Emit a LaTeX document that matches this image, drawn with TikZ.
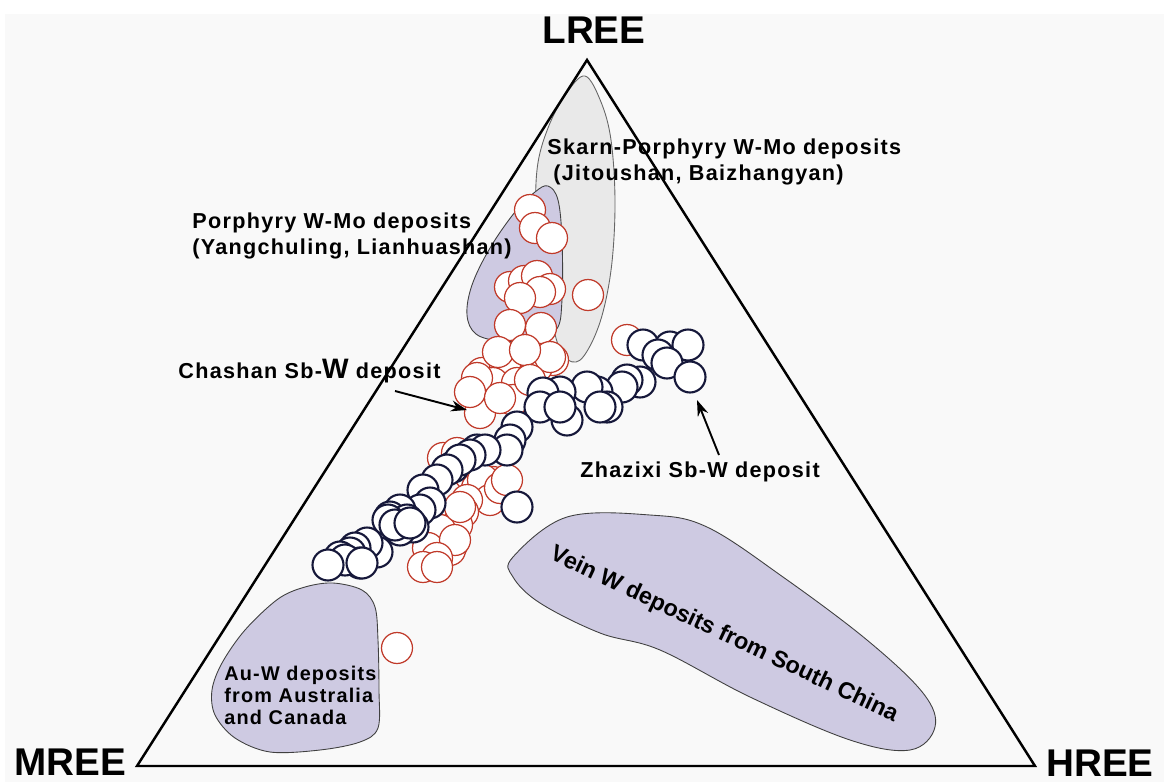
\documentclass[tikz,border=0pt]{standalone}
\usepackage{fontspec}
\setmainfont{Liberation Sans}
\newfontfamily\lblfont{Liberation Sans}[LetterSpace=6]
\usetikzlibrary{arrows.meta}
\definecolor{bggray}{RGB}{249,249,249}
\definecolor{skarngray}{RGB}{233,233,233}
\definecolor{fieldlilac}{RGB}{206,202,226}
\definecolor{ptred}{RGB}{192,58,42}
\definecolor{ptnavy}{RGB}{22,24,58}
\tikzset{
  field/.style ={draw=black!75, line width=0.5pt, fill=fieldlilac},
  skarn/.style ={draw=black!60, line width=0.5pt, fill=skarngray},
  redpt/.style ={draw=ptred, line width=0.7pt, fill=white},
  navypt/.style={draw=ptnavy, line width=1.2pt, fill=white},
  lbl/.style   ={font=\lblfont\bfseries\fontsize{12.3}{15.3}\selectfont, inner sep=0pt, align=left},
  smalllbl/.style={font=\lblfont\bfseries\fontsize{11.3}{12.5}\selectfont, inner sep=0pt, align=left},
  corner/.style={font=\bfseries\fontsize{22}{24}\selectfont, inner sep=0pt},
  ptr/.style   ={-{Stealth[length=3.2mm,width=2.2mm]}, line width=1.1pt},
}

\begin{document}
\begin{tikzpicture}[x=0.02cm, y=-0.02cm]
\useasboundingbox (0,0) rectangle (1164,782);
\fill[white] (0,0) rectangle (1164,782);
\fill[bggray] (5,14) rectangle (1164,782);

% fields
\draw[skarn] plot[smooth cycle, tension=0.6] coordinates {(585,76) (601,102) (611,140) (615,200) (612,262) (603,312) (590,346) (576,362) (560,350) (548,300) (537,230) (537,170) (548,128) (566,94)};
\draw[field] plot[smooth cycle, tension=0.6] coordinates {(548,186) (558,200) (562,240) (562,300) (556,330) (530,340) (500,341) (476,334) (467,315) (472,285) (490,248) (515,212) (535,192)};
\draw[field] plot[smooth cycle, tension=0.55] coordinates {(333,583) (362,590) (375,607) (378,640) (379,690) (378,728) (360,742) (320,750) (270,752) (235,738) (215,715) (212,690) (222,663) (245,630) (278,599) (305,587)};
\draw[field] plot[smooth cycle, tension=0.6] coordinates {(513,557) (567,517) (650,515) (707,527) (783,577) (867,640) (923,693) (935,727) (910,750) (850,740) (750,697) (660,650) (600,633) (540,603) (513,577)};

% triangle
\coordinate (L) at (587,60);
\coordinate (M) at (137,766);
\coordinate (H) at (1035,766);
\draw[line width=1.4pt, line join=miter] (L) -- (M) -- (H) -- cycle;

% Chashan samples
\foreach \x/\y in {530/210,535/228,552/238,510/287,524/281,537/276,550/289,540/292,520/298,588/295,
  510/325,541/328,553/360,627/340,482/373,505/365,537/367,493/383,517/383,477/378,480/413,513/400,
  550/357,498/352,525/350,470/392,500/398,530/380,
  443/458,457/453,470/460,470/475,477/488,493/482,483/480,490/500,467/500,463/512,457/525,452/545,
  450/550,440/530,428/548,455/540,437/558,423/567,437/567,500/488,507/480,460/507,397/648}
  \draw[redpt] (\x,\y) circle[radius=0.31cm];

% Zhazixi samples
\foreach \x/\y in {643/345,670/347,688/345,658/355,667/363,690/377,640/382,627/380,622/387,597/392,
  607/407,587/387,560/392,543/393,540/407,567/420,600/407,560/407,517/427,510/440,477/450,507/450,
  485/450,470/455,453/467,460/460,447/470,437/480,517/507,423/490,430/503,420/510,400/510,390/517,
  407/520,413/527,400/530,388/520,395/525,410/523,377/552,367/543,355/548,350/553,340/557,360/563,
  345/560,362/563,328/565}
  \draw[navypt] (\x,\y) circle[radius=0.31cm];

% labels
\node[corner] (lree) at (594,30) {LREE};
\node[corner] (mree) at (70,762) {MREE};
\node[corner] (hree) at (1100,763) {HREE};

\node[lbl, anchor=north west] (skarnlbl) at (547,138) {Skarn-Porphyry W-Mo deposits\\\hspace*{0.28em}(Jitoushan, Baizhangyan)};
\node[lbl, anchor=north west] (porphlbl) at (192,212) {Porphyry W-Mo deposits\\(Yangchuling, Lianhuashan)};
\node[lbl, anchor=base west] (chashanlbl) at (178,378) {Chashan Sb-{\fontsize{16}{15}\selectfont W} deposit};
\node[lbl, anchor=base west] (zhazixilbl) at (580,477) {Zhazixi Sb-W deposit};
\node[smalllbl, anchor=north west] (auwlbl) at (224,666) {Au-W deposits\\from Australia\\and Canada};
\node[font=\bfseries\fontsize{13.3}{15}\selectfont, inner sep=0pt, rotate=-25.3] (veinlbl) at (724,635) {Vein W deposits from South China};

\coordinate (chashanTail) at (395,391);
\coordinate (chashanTip) at (467,410);
\coordinate (zhazixiTail) at (719,455);
\coordinate (zhazixiTip) at (697,400);
\draw[ptr] (chashanTail) -- (chashanTip);
\draw[ptr] (zhazixiTail) -- (zhazixiTip);
\end{tikzpicture}
\end{document}
